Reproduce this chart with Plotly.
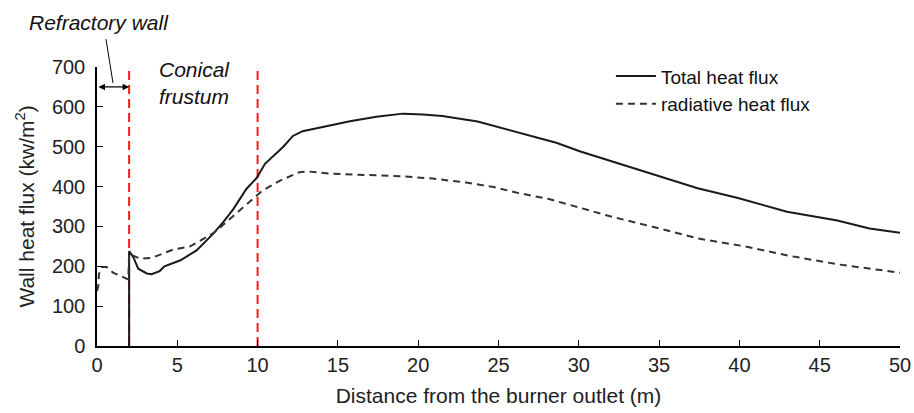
import plotly.graph_objects as go

# Total heat flux (solid)
total_x = [2, 2, 2.26, 2.57, 3.1, 3.4, 3.9, 4.2, 5.2, 6.2, 7.24, 7.86, 8.5, 9.3, 9.95,
           10.3, 10.46, 11.6, 12.2, 12.8, 14.3, 15.75, 17.4, 19.05, 20.3, 21.5, 23.7,
           25.1, 26.8, 28.6, 30.1, 32.6, 35.06, 37.4, 39.85, 42.96, 46.1, 48.1, 50]
total_y = [0, 238, 223, 194, 182, 180, 188, 200, 215, 240, 282, 311, 344, 394, 422,
           447, 457, 500, 527, 539, 552, 564, 575, 583, 581, 577, 563,
           548, 531, 510, 488, 456, 426, 396, 372, 337, 315, 295, 284]

# Radiative heat flux (dashed)
rad_x = [0, 0.08, 0.12, 0.29, 0.6, 1.0, 1.95, 2.0, 2.15, 2.7, 3.4, 4.0, 4.75, 5.8,
         7.24, 7.86, 8.7, 9.5, 10.0, 10.3, 11.4, 12.6, 13.1, 14.7, 16.8, 18.9, 20.9,
         23.0, 24.7, 26.1, 28.2, 30.1, 31.9, 34.6, 37.4, 40.2, 43.15, 46.1, 50]
rad_y = [138, 150, 180, 198, 198, 184, 167, 232, 228, 219, 221, 231, 242, 250,
         283, 304, 334, 362, 380, 390, 415, 436, 438, 432, 429, 426, 420,
         410, 399, 385, 368, 347, 326, 299, 270, 251, 226, 205, 184]

# Section boundaries (red dashed lines)
boundaries = [2, 10]
boundary_top = 690

x_ticks = list(range(0, 51, 5))
y_ticks = list(range(0, 701, 100))

FONT = "Liberation Sans, Arial, sans-serif"

fig = go.Figure()
for b in boundaries:
    fig.add_trace(go.Scatter(x=[b, b], y=[0, boundary_top], mode="lines", showlegend=False,
                             line=dict(color="#ff1a1a", width=2, dash="9px,5px")))
fig.add_trace(go.Scatter(x=total_x, y=total_y, mode="lines", name="Total heat flux",
                         line=dict(color="#1a1a1a", width=2)))
fig.add_trace(go.Scatter(x=rad_x, y=rad_y, mode="lines", name="radiative heat flux",
                         line=dict(color="#333333", width=2, dash="7px,5px")))

# Refractory wall double arrow
fig.add_annotation(x=boundaries[0], y=650, ax=0, ay=650, xref="x", yref="y",
                   axref="x", ayref="y", text="", showarrow=True,
                   arrowhead=2, arrowside="end+start", arrowsize=1, arrowwidth=1.3,
                   arrowcolor="black")
fig.add_shape(type="line", xref="paper", yref="paper", x0=0.0112, y0=1.10, x1=0.0199, y1=0.943,
              line=dict(color="black", width=1))
fig.add_annotation(x=-0.087, y=1.16, xref="paper", yref="paper", xanchor="left",
                   yanchor="middle", text="<i>Refractory wall</i>", showarrow=False,
                   font=dict(family=FONT, size=21, color="#111"))
fig.add_annotation(x=0.075, y=1.04, xref="paper", yref="paper", xanchor="left",
                   yanchor="top", align="left", text="<i>Conical<br>frustum</i>",
                   showarrow=False, font=dict(family=FONT, size=21, color="#111"))

fig.update_layout(
    width=914, height=413,
    margin=dict(l=97, r=14, t=67, b=67),
    paper_bgcolor="white", plot_bgcolor="white",
    font=dict(family=FONT, size=20, color="#222"),
    showlegend=True,
    legend=dict(x=0.64, y=1.035, xanchor="left", yanchor="top",
                bgcolor="rgba(0,0,0,0)", font=dict(size=19, color="#111"),
                tracegroupgap=0, itemwidth=40),
)
fig.update_xaxes(range=[0, 50], tickvals=x_ticks, ticks="inside", ticklen=6,
                 tickcolor="black", showline=True, linecolor="black", linewidth=1.5,
                 showgrid=False, zeroline=False, automargin=False,
                 title=dict(text="Distance from the burner outlet (m)", font=dict(size=21), standoff=14))
fig.update_yaxes(range=[0, 700], tickvals=y_ticks, ticks="inside", ticklen=6,
                 tickcolor="black", showline=True, linecolor="black", linewidth=1.5,
                 showgrid=False, zeroline=False, automargin=False, ticklabelstandoff=6,
                 title=dict(text="Wall heat flux (kw/m<sup>2</sup>)", font=dict(size=21), standoff=12))

fig.write_html("out.html")
